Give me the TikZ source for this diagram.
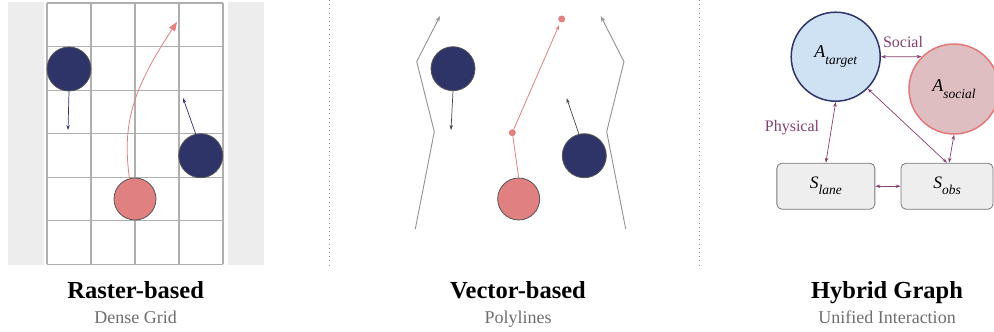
\documentclass[tikz,border=0pt]{standalone}
\usepackage{fontspec}
\setmainfont{Liberation Serif}
\usetikzlibrary{arrows.meta,positioning}

\begin{document}
\begin{tikzpicture}[x=1pt, y=-1pt,
    agent/.style={circle, draw=agentborder, line width=0.8pt, fill=agentnavy, minimum size=44pt, inner sep=0pt},
    ego/.style={circle, draw=agentborder, line width=0.8pt, fill=egopink, minimum size=42pt, inner sep=0pt},
    motion/.style={-{Stealth[length=5pt,width=3.5pt]}, line width=0.7pt},
    waypt/.style={circle, fill=egopink, minimum size=7pt, inner sep=0pt},
    lanebox/.style={rectangle, rounded corners=5pt, draw=boxborder, line width=0.8pt, fill=boxgray, minimum width=98pt, minimum height=46pt, font=\fontsize{17.5}{20}\selectfont\itshape},
    relation/.style={{Stealth[length=5pt,width=3.5pt]}-{Stealth[length=5pt,width=3.5pt]}, draw=relpurple, line width=0.7pt},
    reltext/.style={text=relpurple, font=\fontsize{16}{18}\selectfont},
    title/.style={anchor=base, font=\fontsize{24.5}{27}\selectfont\bfseries},
    subtitle/.style={anchor=base, text=subgray, font=\fontsize{18}{20}\selectfont}]
    % Colori
    \definecolor{agentnavy}{RGB}{46,52,104}
    \definecolor{agentborder}{RGB}{85,85,85}
    \definecolor{egopink}{RGB}{224,128,128}
    \definecolor{gridgray}{RGB}{175,175,175}
    \definecolor{bandgray}{RGB}{237,237,237}
    \definecolor{lanegray}{RGB}{145,145,145}
    \definecolor{motiongray}{RGB}{70,70,70}
    \definecolor{targetfill}{RGB}{207,226,243}
    \definecolor{socialfill}{RGB}{222,190,193}
    \definecolor{socialborder}{RGB}{226,120,120}
    \definecolor{boxgray}{RGB}{238,238,238}
    \definecolor{boxborder}{RGB}{120,120,120}
    \definecolor{relpurple}{RGB}{133,64,112}
    \definecolor{subgray}{RGB}{110,110,110}

    \useasboundingbox (0,0) rectangle (994,332);

    % Separatori
    \draw[lanegray, line width=0.8pt, dash pattern=on 0.8pt off 3.4pt] (329.5,0) -- (329.5,268);
    \draw[lanegray, line width=0.8pt, dash pattern=on 0.8pt off 3.4pt] (699.5,0) -- (699.5,268);

    % Pannello 1: griglia
    \fill[bandgray] (8,2) rectangle (44,265);
    \fill[bandgray] (228,2) rectangle (264,265);
    \foreach \x in {47,91,135,179,223}
        \draw[gridgray, line width=1.1pt] (\x,3) -- (\x,264.3);
    \foreach \y in {3,46.55,90.1,133.65,177.2,220.75,264.3}
        \draw[gridgray, line width=1.1pt] (47,\y) -- (223,\y);

    \node[agent] (rnbA) at (69,69) {};
    \node[agent] (rnbB) at (200.7,155.7) {};
    \node[ego] (rego) at (135,199) {};
    \coordinate (rnbAend) at (68,130);
    \coordinate (rnbBend) at (183,98);
    \coordinate (rgoal) at (177,22);
    \draw[motion, agentnavy] (rnbA.south) -- (rnbAend);
    \draw[motion, agentnavy] (rnbB.103) -- (rnbBend);
    \draw[egopink, line width=0.8pt, -{Triangle[length=9pt,width=7pt]}]
        (rego.105) .. controls (122,125) and (132,90) .. (rgoal);

    \node[title] (rtitle) at (135.7,298) {Raster-based};
    \node[subtitle] (rsub) at (135.7,323) {Dense Grid};

    % Pannello 2: polilinee
    \draw[lanegray, line width=0.9pt, -{Stealth[length=6pt,width=4pt]}]
        (415.3,229) -- (434.3,131.7) -- (416.7,61.7) -- (440,16);
    \draw[lanegray, line width=0.9pt, -{Stealth[length=6pt,width=4pt]}]
        (625.7,229) -- (606.7,131.7) -- (624,61.7) -- (600.7,16);

    \node[agent] (vnbA) at (453,68.7) {};
    \node[agent] (vnbB) at (584.3,155.7) {};
    \node[ego] (vego) at (518.7,199) {};
    \node[waypt] (vwpA) at (512.3,132.7) {};
    \node[waypt] (vwpB) at (561.7,19) {};
    \coordinate (vnbAend) at (451,130);
    \coordinate (vnbBend) at (566.7,98.3);
    \draw[motion, motiongray] (vnbA.south) -- (vnbAend);
    \draw[motion, motiongray] (vnbB.104) -- (vnbBend);
    \draw[egopink, line width=0.8pt] (vego.north) -- (vwpA);
    \draw[egopink, line width=0.8pt, -{Stealth[length=5pt,width=3.5pt]}, shorten >=3pt] (vwpA) -- (vwpB);

    \node[title] (vtitle) at (518,298) {Vector-based};
    \node[subtitle] (vsub) at (518,323) {Polylines};

    % Pannello 3: grafo ibrido
    \node[circle, draw=agentnavy, line width=1.5pt, fill=targetfill, minimum size=89pt, inner sep=0pt,
        font=\fontsize{18}{20}\selectfont\itshape] (target) at (835.7,56.7)
        {A\raisebox{-6.5pt}{\fontsize{13.5}{15}\selectfont target}};
    \node[circle, draw=socialborder, line width=1.5pt, fill=socialfill, minimum size=90pt, inner sep=0pt,
        font=\fontsize{18}{20}\selectfont\itshape] (social) at (954,89)
        {A\raisebox{-6.5pt}{\fontsize{13.5}{15}\selectfont social}};
    \node[lanebox] (lane) at (825.85,186.2) {S\raisebox{-6pt}{\fontsize{13.5}{15}\selectfont lane}};
    \node[lanebox, minimum width=92pt] (obs) at (947,186.2) {S\raisebox{-6pt}{\fontsize{13.5}{15}\selectfont obs}};

    \draw[relation] (target.east) -- (social.135);
    \draw[relation] (target.south) -- (lane.north);
    \draw[relation] (lane.east) -- (obs.west);
    \draw[relation] (target.-45) -- (obs.north);
    \draw[relation] (social.south) -- (obs.85);

    \node[reltext] (sociallbl) at (903,41.7) {Social};
    \node[reltext] (physlbl) at (792,127.7) {Physical};

    \node[title] (htitle) at (887,298) {Hybrid Graph};
    \node[subtitle] (hsub) at (887,323) {Unified Interaction};
\end{tikzpicture}
\end{document}
